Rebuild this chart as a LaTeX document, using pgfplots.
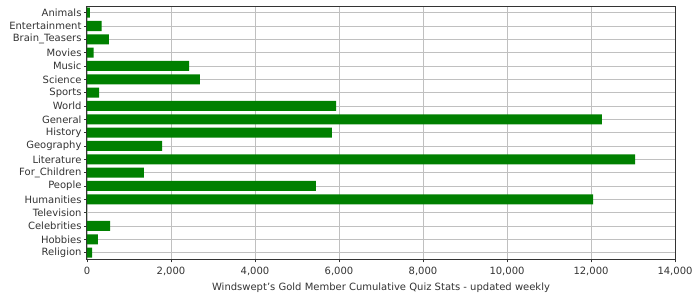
\documentclass[border=0pt]{standalone}
\usepackage{fontspec}
\setmainfont{DejaVu Sans}
\usepackage{pgfplots}
\pgfplotsset{compat=1.18}
\definecolor{bargreen}{HTML}{008000}
\definecolor{gridgray}{HTML}{C0C0C0}
\definecolor{axisgray}{HTML}{333333}
\definecolor{textgray}{HTML}{333333}
\begin{document}
\begin{tikzpicture}[x=1bp,y=1bp]
\path[use as bounding box] (-87,-40.7) rectangle (613,259.3);
\begin{axis}[
  at={(0,0)}, anchor=south west,
  scale only axis, width=588bp, height=253.3bp,
  xbar, bar width=10bp,
  y dir=reverse,
  xmin=0, xmax=14000,
  ymin=-0.5, ymax=18.5,
  xtick={0,2000,...,14000},
  ytick={0,...,18},
  yticklabels={Animals,Entertainment,Brain\_Teasers,Movies,Music,Science,Sports,World,General,History,Geography,Literature,For\_Children,People,Humanities,Television,Celebrities,Hobbies,Religion},
  scaled x ticks=false,
  /pgf/number format/assume math mode=true,
  /pgf/number format/.cd, fixed, 1000 sep={,}, /pgfplots/.cd,
  xmajorgrids, ymajorgrids,
  major grid style={gridgray, line width=0.8bp},
  axis line style={axisgray, line width=1bp},
  tick style={axisgray, line width=0.8bp},
  tick align=outside, major tick length=3bp,
  xtick pos=bottom, ytick pos=left,
  tick label style={font=\fontsize{10bp}{12bp}\selectfont, text=textgray},
  xticklabel style={yshift=-1bp},
  yticklabel style={xshift=1bp},
  label style={font=\fontsize{10bp}{12bp}\selectfont, text=textgray},
  xlabel={Windswept's Gold Member Cumulative Quiz Stats - updated weekly},
  xlabel style={yshift=-1bp},
]
\addplot[fill=bargreen, draw=none] coordinates {
(70,0) (350,1) (520,2) (160,3) (2430,4) (2690,5) (290,6) (5930,7) (12260,8) (5830,9) (1790,10) (13050,11) (1357,12) (5450,13) (12050,14) (0,15) (550,16) (260,17) (120,18)
};
\end{axis}
\end{tikzpicture}
\end{document}
